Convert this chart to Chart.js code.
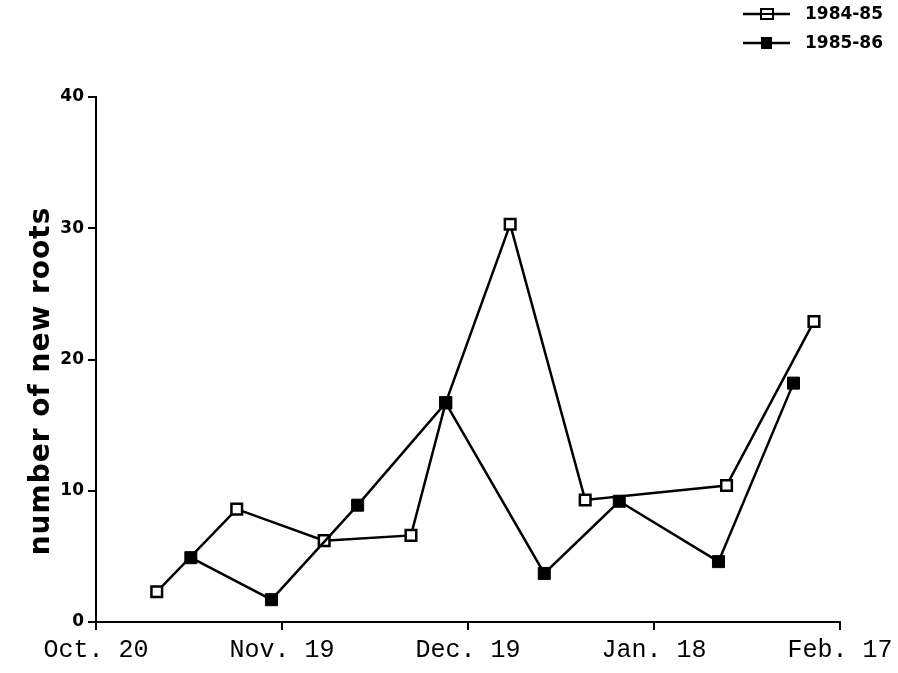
<!DOCTYPE html>
<html>
<head>
<meta charset="utf-8">
<title>new roots</title>
<script src="https://cdn.jsdelivr.net/npm/chart.js@4.4.1/dist/chart.umd.min.js"></script>
<style>
    html, body { margin: 0; padding: 0; background: #fff; }
    canvas { display: block; }
</style>
</head>
<body>
<canvas id="graficoRaizes" width="898" height="673"></canvas>
<script>
// Datas do eixo x (dias desde 20 de outubro, marcas a cada 30 dias)
const rotulosDatas = ['Oct. 20', 'Nov. 19', 'Dec. 19', 'Jan. 18', 'Feb. 17'];
const series = ['1984-85', '1985-86'];

// 1984-85 (quadrado aberto)
const dias8485 = [9.8, 22.7, 36.8, 50.8, 56.4, 66.8, 78.9, 101.7, 115.8];
const raizes8485 = [2.3, 8.6, 6.2, 6.6, 16.7, 30.3, 9.3, 10.4, 22.9];

// 1985-86 (quadrado cheio)
const dias8586 = [15.3, 28.3, 42.2, 56.4, 72.3, 84.4, 100.4, 112.5];
const raizes8586 = [4.9, 1.7, 8.9, 16.7, 3.7, 9.2, 4.6, 18.2];

const rotuloEixoY = 'number of new roots';

function pontos(xs, ys) {
    return xs.map((x, i) => ({ x: x, y: ys[i] }));
}

// Título vertical e legenda desenhados à mão
const extras = {
    id: 'extras',
    afterDraw(chart) {
        const c = chart.ctx;
        c.save();
        c.fillStyle = '#000';
        c.strokeStyle = '#000';

        // título do eixo y
        c.translate(42, 381);
        c.rotate(-Math.PI / 2);
        c.font = 'bold 28px "DejaVu Sans"';
        c.letterSpacing = '1px';
        c.textAlign = 'center';
        c.textBaseline = 'middle';
        c.fillText(rotuloEixoY, 0, 0);
        c.setTransform(1, 0, 0, 1, 0, 0);
        c.letterSpacing = '0px';

        // legenda
        const linhas = [14, 43];
        series.forEach((nome, i) => {
            const y = linhas[i];
            c.lineWidth = 2.5;
            c.beginPath();
            c.moveTo(743, y);
            c.lineTo(790, y);
            c.stroke();
            if (i === 0) {
                c.fillStyle = '#fff';
                c.fillRect(761, y - 5, 12, 10);
                c.lineWidth = 2;
                c.strokeRect(761, y - 5, 12, 10);
                c.beginPath();
                c.moveTo(761, y);
                c.lineTo(773, y);
                c.stroke();
            } else {
                c.fillStyle = '#000';
                c.fillRect(761, y - 6, 11, 12);
            }
            c.fillStyle = '#000';
            c.font = 'bold 17px "DejaVu Sans"';
            c.textAlign = 'left';
            c.textBaseline = 'middle';
            c.fillText(nome, 805, y + 1);
        });
        c.restore();
    }
};

const ctx = document.getElementById('graficoRaizes').getContext('2d');
const graficoRaizes = new Chart(ctx, {
    type: 'line',
    data: {
        datasets: [{
            label: series[0],
            data: pontos(dias8485, raizes8485),
            borderColor: '#000',
            borderWidth: 2.5,
            pointStyle: 'rect',
            pointRadius: 7.5,
            pointBorderWidth: 2.5,
            pointBackgroundColor: '#fff',
            pointBorderColor: '#000',
            tension: 0,
            order: 1
        }, {
            label: series[1],
            data: pontos(dias8586, raizes8586),
            borderColor: '#000',
            borderWidth: 2.5,
            pointStyle: 'rect',
            pointRadius: 8.5,
            pointBorderWidth: 1,
            pointBackgroundColor: '#000',
            pointBorderColor: '#000',
            tension: 0,
            order: 0
        }]
    },
    options: {
        responsive: false,
        animation: false,
        layout: { padding: { top: 97, right: 58, left: 0, bottom: 0 } },
        plugins: {
            legend: { display: false },
            tooltip: { enabled: false }
        },
        scales: {
            x: {
                type: 'linear',
                min: 0,
                max: 120,
                afterFit(scale) { scale.height = 51; },
                ticks: {
                    stepSize: 30,
                    color: '#000',
                    padding: 5,
                    maxRotation: 0,
                    font: { family: '"Liberation Mono"', size: 25 },
                    callback: (v) => rotulosDatas[Math.round(v / 30)]
                },
                grid: { drawOnChartArea: false, drawTicks: true, tickLength: 8, color: '#000', lineWidth: 2 },
                border: { display: true, color: '#000', width: 2 }
            },
            y: {
                min: 0,
                max: 40,
                afterFit(scale) { scale.width = 96; },
                ticks: {
                    stepSize: 10,
                    color: '#000',
                    padding: 4,
                    font: { family: '"DejaVu Sans"', size: 17, weight: 'bold' }
                },
                grid: { drawOnChartArea: false, drawTicks: true, tickLength: 8, color: '#000', lineWidth: 2 },
                border: { display: true, color: '#000', width: 2 }
            }
        }
    },
    plugins: [extras]
});
</script>
</body>
</html>
